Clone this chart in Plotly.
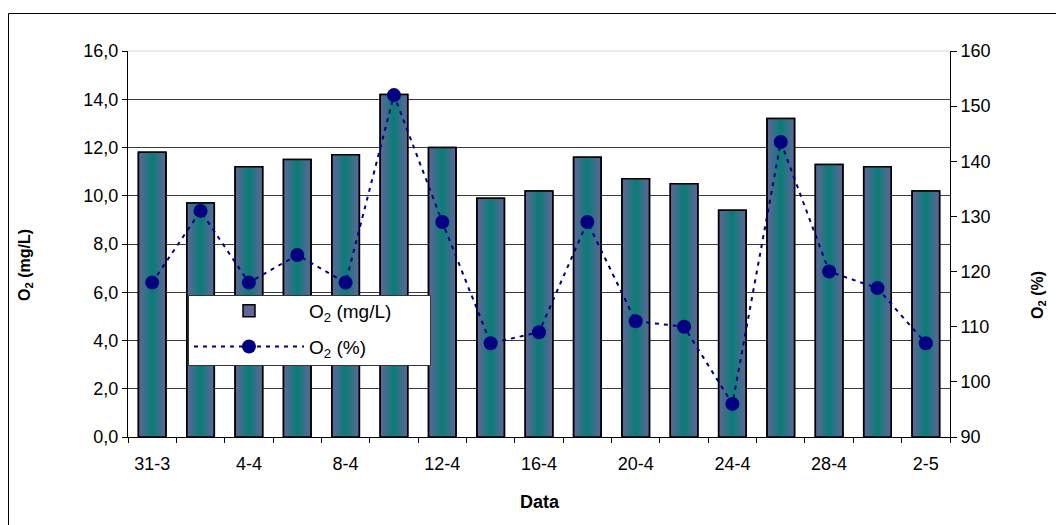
import plotly.graph_objects as go

# ---- data ----
dates = ["31-3", "2-4", "4-4", "6-4", "8-4", "10-4", "12-4", "14-4", "16-4",
         "18-4", "20-4", "22-4", "24-4", "26-4", "28-4", "30-4", "2-5"]
o2_mgl = [11.8, 9.7, 11.2, 11.5, 11.7, 14.2, 12.0, 9.9, 10.2,
          11.6, 10.7, 10.5, 9.4, 13.2, 11.3, 11.2, 10.2]
o2_pct = [118, 131, 118, 123, 118, 152, 129, 107, 109,
          129, 111, 110, 96, 143.5, 120, 117, 107]

# ---- geometry (pixels) ----
W, H = 1056, 525
L, R, T, B = 128, 950, 51, 437
pw, ph = R - L, B - T

def px_x(x):
    return (x - L) / pw

def px_y(y):
    return (B - y) / ph

xpos = list(range(len(dates)))

fig = go.Figure()

edge = (96, 102, 152)
center = (12, 124, 120)
N = 12
full_w = 0.57
for k in range(N):
    t = k / (N - 1)
    c = tuple(round(edge[i] + (center[i] - edge[i]) * t) for i in range(3))
    w = full_w * (1 - k / N)
    fig.add_trace(go.Bar(
        x=xpos, y=o2_mgl, width=w,
        marker=dict(color="rgb(%d,%d,%d)" % c,
                    line=dict(color="black", width=1.5 if k == 0 else 0)),
        name="O<sub>2</sub> (mg/L)", showlegend=(k == 0),
        legendgroup="a", hoverinfo="skip" if k else None,
    ))
# outline on top
fig.add_trace(go.Bar(
    x=xpos, y=o2_mgl, width=full_w,
    marker=dict(color="rgba(0,0,0,0)", line=dict(color="black", width=1.5)),
    showlegend=False, hoverinfo="skip", legendgroup="a",
))

fig.add_trace(go.Scatter(
    x=xpos, y=o2_pct, yaxis="y2", mode="lines+markers",
    name="O<sub>2</sub> (%)", legendgroup="b",
    line=dict(color="#000080", width=2, dash="4px,5px"),
    marker=dict(color="#000080", size=14, symbol="circle"),
))

font_family = "Liberation Sans, Arial, sans-serif"

fig.update_layout(
    width=W, height=H,
    margin=dict(l=L, r=W - R, t=T, b=H - B, pad=0),
    paper_bgcolor="white", plot_bgcolor="white",
    barmode="overlay",
    separators=", ",
    font=dict(family=font_family, size=18, color="black"),
    showlegend=True,
    legend=dict(
        x=px_x(189), y=px_y(292), xanchor="left", yanchor="top",
        bgcolor="rgba(0,0,0,0)", borderwidth=0,
        font=dict(size=19), itemwidth=110, tracegroupgap=8,
        traceorder="grouped",
    ),
    xaxis=dict(
        range=[-0.5, len(dates) - 0.5],
        tickmode="array", tickvals=xpos[::2], ticktext=dates[::2],
        ticks="", showgrid=False, zeroline=False,
        showline=True, linecolor="black", linewidth=1,
        ticklabelstandoff=10,
        minor=dict(tickmode="array",
                   tickvals=[i - 0.5 for i in range(len(dates) + 1)],
                   ticks="outside", ticklen=5, tickcolor="black",
                   showgrid=False),
        tickfont=dict(size=18),
    ),
    yaxis=dict(
        range=[0, 16], dtick=2, tick0=0, tickformat=".1f",
        ticks="outside", ticklen=5, tickcolor="black",
        showline=True, linecolor="black", linewidth=1,
        showgrid=True, gridcolor="#3a3a3a", gridwidth=1,
        zeroline=False, tickfont=dict(size=18),
    ),
    yaxis2=dict(
        range=[90, 160], dtick=10, tick0=90,
        overlaying="y", side="right",
        ticks="outside", ticklen=6, tickcolor="black",
        showline=True, linecolor="black", linewidth=1,
        showgrid=False, zeroline=False, tickfont=dict(size=18),
    ),
    shapes=[
        # light top line
        dict(type="line", xref="paper", yref="paper", x0=0, x1=1, y0=1, y1=1,
             line=dict(color="#e6e6e6", width=1.5), layer="above"),
        # legend box
        dict(type="rect", xref="paper", yref="paper",
             x0=px_x(188.5), x1=px_x(430.5), y0=px_y(295.5), y1=px_y(365.5),
             fillcolor="white", line=dict(color="#333", width=1),
             layer="above"),
        # outer border (left and top)
        dict(type="line", xref="paper", yref="paper",
             x0=px_x(8.5), x1=px_x(8.5), y0=px_y(13.5), y1=px_y(530),
             line=dict(color="black", width=1)),
        dict(type="line", xref="paper", yref="paper",
             x0=px_x(8.5), x1=px_x(1060), y0=px_y(13.5), y1=px_y(13.5),
             line=dict(color="black", width=1)),
    ],
    annotations=[
        dict(text="<b>O<sub>2</sub> (mg/L)</b>", xref="paper", yref="paper",
             x=px_x(25), y=px_y(265), textangle=-90, showarrow=False,
             font=dict(size=16), xanchor="center", yanchor="middle"),
        dict(text="<b>O<sub>2</sub> (%)</b>", xref="paper", yref="paper",
             x=px_x(1038), y=px_y(295), textangle=-90, showarrow=False,
             font=dict(size=16), xanchor="center", yanchor="middle"),
        dict(text="<b>Data</b>", xref="paper", yref="paper",
             x=px_x(540), y=px_y(502), showarrow=False,
             font=dict(size=18), xanchor="center", yanchor="middle"),
    ],
)

fig.write_html("out.html")
